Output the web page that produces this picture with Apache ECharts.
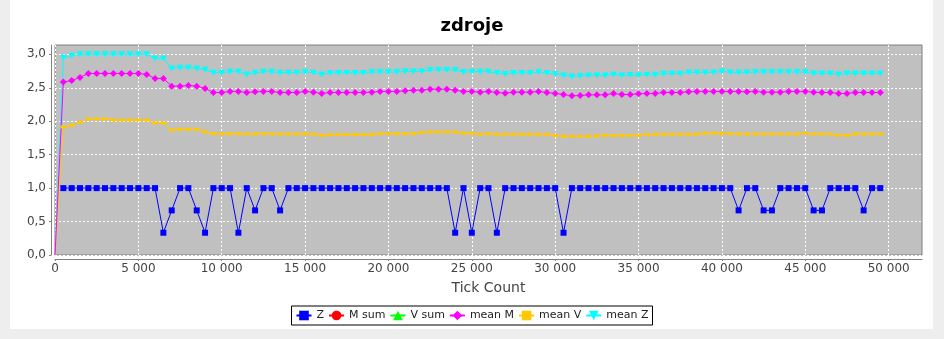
<!DOCTYPE html>
<html>
<head>
<meta charset="utf-8">
<script src="https://cdn.jsdelivr.net/npm/echarts@6/dist/echarts.min.js"></script>
<style>
html,body{margin:0;padding:0;background:#eeeeee;}
#panel{position:absolute;left:10px;top:0;width:923px;height:329px;background:#ffffff;}
#chart{position:absolute;left:0;top:0;width:944px;height:339px;}
</style>
</head>
<body>
<div id="panel"></div>
<div id="chart"></div>
<script>
const tickCount = [
  0,500,1000,1500,2000,2500,3000,3500,4000,4500,
  5000,5500,6000,6500,7000,7500,8000,8500,9000,9500,
  10000,10500,11000,11500,12000,12500,13000,13500,14000,14500,
  15000,15500,16000,16500,17000,17500,18000,18500,19000,19500,
  20000,20500,21000,21500,22000,22500,23000,23500,24000,24500,
  25000,25500,26000,26500,27000,27500,28000,28500,29000,29500,
  30000,30500,31000,31500,32000,32500,33000,33500,34000,34500,
  35000,35500,36000,36500,37000,37500,38000,38500,39000,39500,
  40000,40500,41000,41500,42000,42500,43000,43500,44000,44500,
  45000,45500,46000,46500,47000,47500,48000,48500,49000,49500
];
const seriesZ = [
  null,1,1,1,1,1,1,1,1,1,
  1,1,1,0.333,0.667,1,1,0.667,0.333,1,
  1,1,0.333,1,0.667,1,1,0.667,1,1,
  1,1,1,1,1,1,1,1,1,1,
  1,1,1,1,1,1,1,1,0.333,1,
  0.333,1,1,0.333,1,1,1,1,1,1,
  1,0.333,1,1,1,1,1,1,1,1,
  1,1,1,1,1,1,1,1,1,1,
  1,1,0.667,1,1,0.667,0.667,1,1,1,
  1,0.667,0.667,1,1,1,1,0.667,1,1
];
const seriesMSum = [];
const seriesVSum = [];
const meanM = [
  0,2.585,2.61,2.655,2.715,2.715,2.715,2.715,2.715,2.715,
  2.715,2.70,2.64,2.64,2.525,2.525,2.535,2.525,2.49,2.43,
  2.43,2.445,2.445,2.43,2.44,2.445,2.445,2.43,2.43,2.43,
  2.445,2.435,2.415,2.43,2.43,2.43,2.43,2.43,2.435,2.445,
  2.445,2.445,2.455,2.465,2.465,2.48,2.48,2.48,2.465,2.445,
  2.445,2.435,2.445,2.43,2.42,2.435,2.435,2.435,2.445,2.43,
  2.415,2.40,2.38,2.385,2.395,2.395,2.395,2.415,2.40,2.40,
  2.41,2.415,2.415,2.43,2.43,2.43,2.44,2.445,2.445,2.445,
  2.445,2.445,2.445,2.44,2.445,2.435,2.435,2.435,2.445,2.445,
  2.445,2.435,2.43,2.43,2.415,2.415,2.43,2.43,2.43,2.43
];
const meanV = [
  0,1.915,1.94,1.985,2.035,2.035,2.035,2.02,2.02,2.02,
  2.02,2.02,1.975,1.975,1.87,1.88,1.88,1.88,1.84,1.815,
  1.81,1.815,1.815,1.81,1.81,1.815,1.815,1.81,1.81,1.81,
  1.81,1.81,1.79,1.80,1.80,1.80,1.80,1.80,1.80,1.815,
  1.815,1.815,1.815,1.815,1.83,1.84,1.84,1.84,1.84,1.82,
  1.82,1.805,1.815,1.805,1.805,1.805,1.805,1.805,1.805,1.805,
  1.785,1.775,1.775,1.775,1.775,1.78,1.79,1.785,1.785,1.785,
  1.79,1.80,1.805,1.805,1.805,1.805,1.805,1.805,1.82,1.82,
  1.82,1.815,1.81,1.81,1.81,1.81,1.81,1.81,1.81,1.81,
  1.82,1.81,1.81,1.81,1.79,1.79,1.81,1.81,1.81,1.81
];
const meanZ = [
  0,2.95,2.98,3.0,3.0,3.0,3.0,3.0,3.0,3.0,
  3.0,3.0,2.94,2.94,2.79,2.80,2.80,2.79,2.77,2.725,
  2.725,2.74,2.74,2.70,2.725,2.74,2.74,2.725,2.725,2.725,
  2.74,2.725,2.70,2.72,2.72,2.72,2.72,2.72,2.735,2.735,
  2.735,2.735,2.745,2.745,2.745,2.765,2.765,2.765,2.765,2.735,
  2.74,2.74,2.74,2.72,2.705,2.72,2.72,2.72,2.735,2.72,
  2.705,2.685,2.67,2.675,2.685,2.685,2.685,2.70,2.685,2.69,
  2.685,2.695,2.695,2.71,2.71,2.71,2.73,2.73,2.73,2.73,
  2.745,2.73,2.73,2.73,2.735,2.735,2.735,2.735,2.735,2.735,
  2.735,2.715,2.715,2.715,2.70,2.715,2.715,2.715,2.715,2.715
];
const xTicks = [0,5000,10000,15000,20000,25000,30000,35000,40000,45000,50000];
const yTicks = [0,0.5,1,1.5,2,2.5,3];
const seriesNames = ['Z','M sum','V sum','mean M','mean V','mean Z'];

// points sitting on the plot corner are clipped away in the reference
function pair(xs, ys){
  return ys.map((v,i)=> (v === 0 && xs[i] === 0)
    ? {value:[xs[i], v], symbol:'none'} : [xs[i], v]);
}
const font = 'DejaVu Sans';

const chart = echarts.init(document.getElementById('chart'), null, {renderer:'canvas'});
function mk(name, data, color, symbol, size, rotate){
  return {
    name, type:'line', data: pair(tickCount, data), color,
    symbol, symbolSize: size, symbolRotate: rotate || 0, showSymbol:true,
    connectNulls:false,
    lineStyle:{color, width:1}, itemStyle:{color},
    animation:false, emphasis:{disabled:true}
  };
}
chart.setOption({
  animation:false,
  backgroundColor:'transparent',
  title:{text:'zdroje', left:'center', top:12,
    textStyle:{fontFamily:font, fontWeight:'bold', fontSize:18, color:'#000'}},
  grid:{left:55, right:22, top:45, bottom:84, show:true,
    backgroundColor:'#c0c0c0', borderColor:'#808080', borderWidth:1},
  legend:{
    data: seriesNames, left:'center', top:306,
    backgroundColor:'#ffffff', borderColor:'#000', borderWidth:1,
    padding:[4,4,4,4], itemGap:4, itemWidth:15, itemHeight:12,
    textStyle:{fontFamily:font, fontSize:11, color:'#222'}
  },
  xAxis:{
    type:'value', min:0, max:52000, interval:5000, offset:4,
    axisLine:{show:true, onZero:false, lineStyle:{color:'#808080'}},
    axisTick:{show:true, length:2, customValues:xTicks, lineStyle:{color:'#808080'}},
    axisLabel:{customValues:xTicks, margin:4, fontFamily:font, fontSize:12, color:'#444',
      formatter: v => String(v).replace(/\B(?=(\d{3})+(?!\d))/g, ' ')},
    splitLine:{show:true, lineStyle:{color:'#ffffff', type:[2,2], width:1}},
    name:'Tick Count', nameLocation:'middle', nameGap:22,
    nameTextStyle:{fontFamily:font, fontSize:14, color:'#444'}
  },
  yAxis:{
    type:'value', min:0, max:3.14, interval:0.5, offset:4,
    axisLine:{show:true, onZero:false, lineStyle:{color:'#808080'}},
    axisTick:{show:true, length:2, customValues:yTicks, lineStyle:{color:'#808080'}},
    axisLabel:{customValues:yTicks, margin:5, fontFamily:font, fontSize:12, color:'#444',
      formatter: v => v.toFixed(1).replace('.', ',')},
    splitLine:{show:true, lineStyle:{color:'#ffffff', type:[2,2], width:1}}
  },
  series:[
    mk('mean Z', meanZ, '#00ffff', 'triangle', [7,6], 180),
    mk('mean V', meanV, '#ffc800', 'rect', [6,3]),
    mk('mean M', meanM, '#ff00ff', 'diamond', 7),
    mk('V sum', seriesVSum, '#00ff00', 'triangle', 6),
    mk('M sum', seriesMSum, '#ff0000', 'circle', 6),
    mk('Z', seriesZ, '#0000ff', 'rect', 6)
  ]
});
</script>
</body>
</html>
